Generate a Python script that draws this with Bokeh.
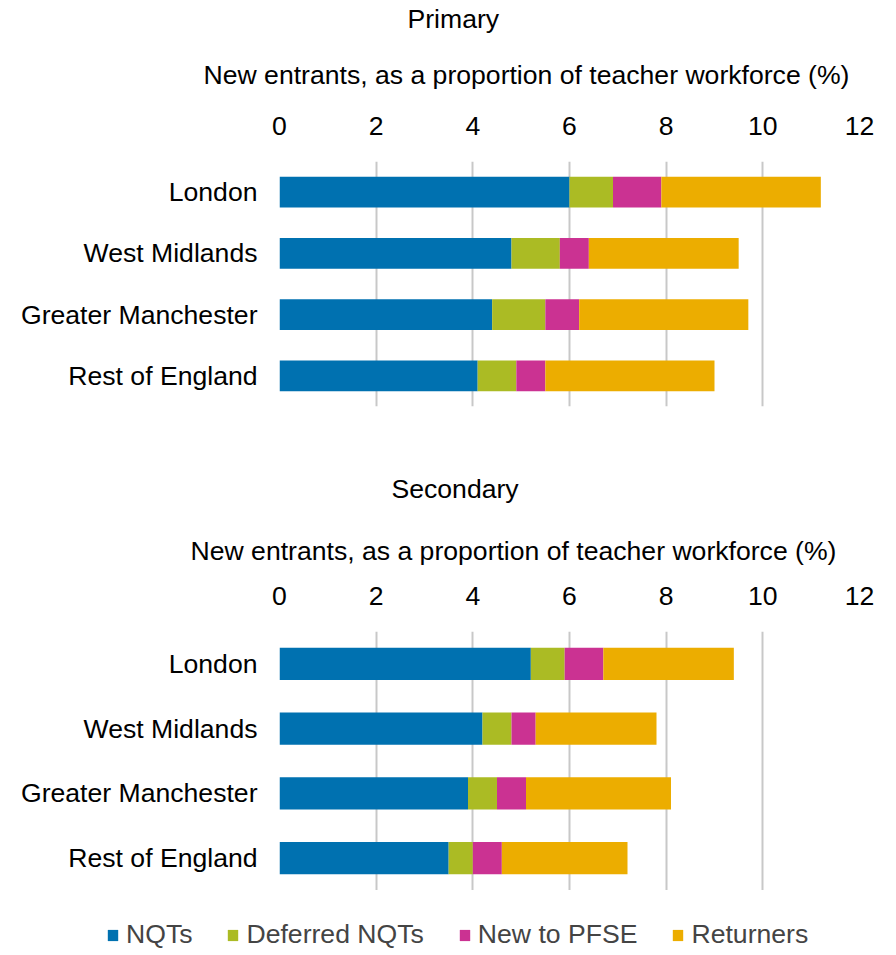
from bokeh.plotting import figure
from bokeh.models import FactorRange, Range1d, Title, Legend, LegendItem, ColumnDataSource, FixedTicker
from bokeh.layouts import column
from bokeh.embed import file_html
from bokeh.resources import INLINE

regions = ["London", "West Midlands", "Greater Manchester", "Rest of England"]
series = ["NQTs", "Deferred NQTs", "New to PFSE", "Returners"]
colors = ["#0071b0", "#abbb24", "#cb3292", "#ecad00"]

primary_nqts = [6.0, 4.8, 4.4, 4.1]
primary_deferred = [0.9, 1.0, 1.1, 0.8]
primary_new = [1.0, 0.6, 0.7, 0.6]
primary_returners = [3.3, 3.1, 3.5, 3.5]

secondary_nqts = [5.2, 4.2, 3.9, 3.5]
secondary_deferred = [0.7, 0.6, 0.6, 0.5]
secondary_new = [0.8, 0.5, 0.6, 0.6]
secondary_returners = [2.7, 2.5, 3.0, 2.6]

x_ticks = [0, 2, 4, 6, 8, 10, 12]
axis_title = "New entrants, as a proportion of teacher workforce (%)"

FONT = "Liberation Sans"
FS = "26.6px"


def make_panel(title, vals, frame_h, title_offset, label_offset, label_standoff,
               title_standoff, top, bottom):
    src = ColumnDataSource(dict(region=regions, **{s: v for s, v in zip(series, vals)}))
    p = figure(y_range=FactorRange(factors=list(reversed(regions))),
               x_range=Range1d(0, 12), x_axis_location="above",
               frame_width=580, frame_height=frame_h,
               min_border_left=279, min_border_right=29,
               min_border_top=top, min_border_bottom=bottom,
               output_backend="svg", toolbar_location=None)
    p.hbar_stack(series, y="region", height=0.5, color=colors, source=src, line_color=None)
    p.outline_line_color = None
    p.xaxis.ticker = FixedTicker(ticks=x_ticks)
    for ax in (p.xaxis[0], p.yaxis[0]):
        ax.axis_line_color = None
        ax.major_tick_line_color = None
        ax.minor_tick_line_color = None
        ax.major_label_text_font = FONT
        ax.major_label_text_font_size = FS
        ax.major_label_text_color = "#000000"
    p.xaxis.major_label_standoff = 21
    p.yaxis.major_label_standoff = 16
    p.xgrid.ticker = FixedTicker(ticks=x_ticks)
    p.xgrid.grid_line_color = "#c8c8c8"
    p.xgrid.grid_line_width = 2
    p.ygrid.grid_line_color = None
    p.add_layout(Title(text=axis_title, align="left", offset=label_offset, standoff=label_standoff,
                       text_font=FONT, text_font_size=FS, text_font_style="normal",
                       text_color="#000000"), "above")
    p.add_layout(Title(text=title, align="left", offset=title_offset, standoff=title_standoff,
                       text_font=FONT, text_font_size=FS, text_font_style="normal",
                       text_color="#000000"), "above")
    return p


p1 = make_panel("Primary", [primary_nqts, primary_deferred, primary_new, primary_returners],
                245, 128, -76, 47, 2, 161, 53)
p2 = make_panel("Secondary", [secondary_nqts, secondary_deferred, secondary_new, secondary_returners],
                259, 112, -89, 35, 25, 0, 0)

# legend strip: a separate root so its frame spans the full width
# (its renderers sit outside the visible range; only their legend swatches show)
p3 = figure(width=889, height=60, min_border=0,
            x_range=Range1d(0, 1), y_range=Range1d(0, 1),
            x_axis_type=None, y_axis_type=None,
            output_backend="svg", toolbar_location=None)
p3.outline_line_color = None
p3.xgrid.grid_line_color = None
p3.ygrid.grid_line_color = None
rs = [p3.hbar(y=[-5], right=[1], height=0.5, color=c, line_color=None) for c in colors]
items = [LegendItem(label=s, renderers=[r]) for s, r in zip(series, rs)]
lg = Legend(items=items, orientation="horizontal", location=(106, 0),
            label_text_font=FONT, label_text_font_size=FS,
            glyph_width=13, glyph_height=14, label_standoff=7, spacing=34,
            padding=0, margin=0, border_line_color=None, background_fill_alpha=0)
p3.add_layout(lg)

charts = column(p1, p2, spacing=0)
p = [charts, p3]
open("out.html", "w").write(file_html(p, INLINE))
